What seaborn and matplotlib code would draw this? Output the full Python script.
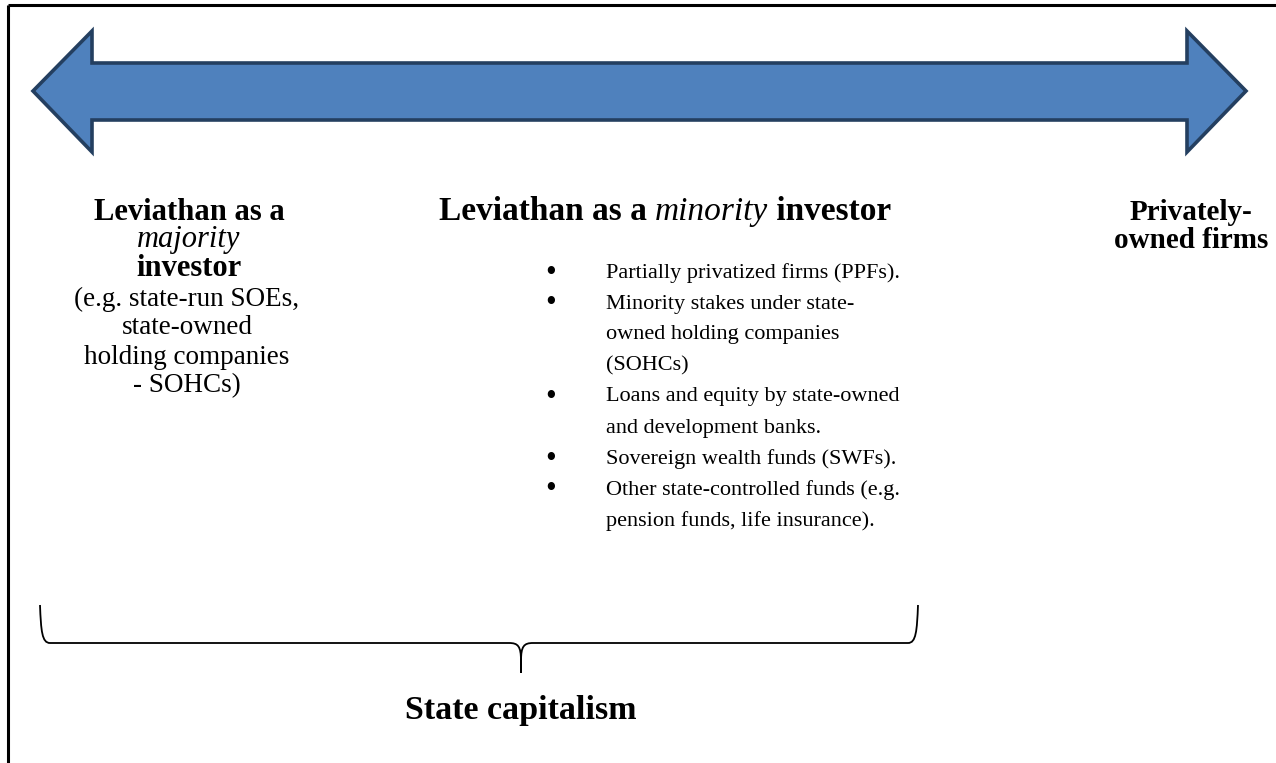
import seaborn as sns
import matplotlib.pyplot as plt
from matplotlib.path import Path
from matplotlib.patches import PathPatch, Polygon

# Text content of the diagram
LEFT_HEAD = ["Leviathan as a", "majority", "investor"]
LEFT_HEAD_STYLE = ["bold", "italic", "bold"]
LEFT_NOTE = ["(e.g. state-run SOEs,", "state-owned", "holding companies", "- SOHCs)"]
MID_HEAD = ["Leviathan as a ", "minority", " investor"]
MID_HEAD_STYLE = ["bold", "italic", "bold"]
BULLETS = [
    ["Partially privatized firms (PPFs)."],
    ["Minority stakes under state-", "owned holding companies", "(SOHCs)"],
    ["Loans and equity by state-owned", "and development banks."],
    ["Sovereign wealth funds (SWFs)."],
    ["Other state-controlled funds (e.g.", "pension funds, life insurance)."],
]
RIGHT_HEAD = ["Privately-", "owned firms"]
BRACE_LABEL = "State capitalism"

W, H = 1276, 763
FONT = ["Liberation Serif", "DejaVu Serif"]
HEAD_SIZE = 22
MID_SIZE = 24
RIGHT_SIZE = 21
NOTE_SIZE = 19.5
BODY_SIZE = 16
INK = "black"

sns.set_theme(style="white")
plt.rcParams["font.family"] = FONT
plt.rcParams["text.color"] = INK

fig = plt.figure(figsize=(W / 100, H / 100), dpi=100)
ax = fig.add_axes([0, 0, 1, 1])
ax.set_xlim(0, W)
ax.set_ylim(H, 0)
ax.axis("off")

# outer frame (top and left edges visible)
ax.plot([8, W], [5, 5], color=INK, lw=2.2, solid_capstyle="butt")
ax.plot([8, 8], [5, H], color=INK, lw=2.2, solid_capstyle="butt")

# double-headed arrow
arrow = [(33, 91), (92, 31), (92, 63), (1187, 63), (1187, 31), (1246, 91),
         (1187, 152), (1187, 120), (92, 120), (92, 152)]
ax.add_patch(Polygon(arrow, closed=True, facecolor="#4F81BD",
                     edgecolor="#243F60", lw=2.6, joinstyle="miter"))


def style_kw(s):
    if s == "italic":
        return dict(fontstyle="italic", fontweight="normal")
    return dict(fontstyle="normal", fontweight=s)


def mixed_line(parts, styles, xc, y, size):
    # lay out segments of one line side by side, centred on xc
    r = fig.canvas.get_renderer()
    objs = []
    for p, s in zip(parts, styles):
        t = ax.text(0, y, p, fontsize=size, va="center", ha="left", **style_kw(s))
        objs.append(t)
    inv = ax.transData.inverted()
    widths = []
    for t in objs:
        bb = t.get_window_extent(renderer=r)
        x0 = inv.transform((bb.x0, 0))[0]
        x1 = inv.transform((bb.x1, 0))[0]
        widths.append(x1 - x0)
    x = xc - sum(widths) / 2
    for t, w in zip(objs, widths):
        t.set_x(x)
        x += w


# left column
for txt, s, y in zip(LEFT_HEAD, LEFT_HEAD_STYLE, [212, 240, 268]):
    ax.text(189, y, txt, fontsize=HEAD_SIZE, ha="center", va="center", **style_kw(s))
for i, txt in enumerate(LEFT_NOTE):
    ax.text(187, 299 + i * 29, txt, fontsize=NOTE_SIZE, ha="center", va="center")

# middle column
mixed_line(MID_HEAD, MID_HEAD_STYLE, 665, 212, MID_SIZE)
y = 273
for item in BULLETS:
    ax.text(551, y, "\u2022", fontsize=BODY_SIZE + 6, ha="center", va="center")
    for line in item:
        ax.text(606, y, line, fontsize=BODY_SIZE, ha="left", va="center")
        y += 31

# right column
for i, txt in enumerate(RIGHT_HEAD):
    ax.text(1191, 212 + i * 29, txt, fontsize=RIGHT_SIZE, fontweight="bold",
            ha="center", va="center")

# curly brace under the investor columns
xl, xr, xm, yt, yh, yp = 40, 918, 521, 605, 643, 673
verts = [(xl, yt), (xl + 1, yh - 12), (xl + 2, yh), (xl + 10, yh),
         (xm - 12, yh),
         (xm - 3, yh), (xm, yh + 3), (xm, yp - 12),
         (xm, yp),
         (xm, yp - 12),
         (xm, yh + 3), (xm + 3, yh), (xm + 12, yh),
         (xr - 10, yh),
         (xr - 2, yh), (xr - 1, yh - 12), (xr, yt)]
codes = [Path.MOVETO, Path.CURVE4, Path.CURVE4, Path.CURVE4,
         Path.LINETO,
         Path.CURVE4, Path.CURVE4, Path.CURVE4,
         Path.LINETO,
         Path.LINETO,
         Path.CURVE4, Path.CURVE4, Path.CURVE4,
         Path.LINETO,
         Path.CURVE4, Path.CURVE4, Path.CURVE4]
ax.add_patch(PathPatch(Path(verts, codes), facecolor="none", edgecolor=INK, lw=1.3))

ax.text(xm, 711, BRACE_LABEL, fontsize=24.5, fontweight="bold", ha="center", va="center")

fig.savefig("out.png", dpi=100, facecolor="white")
